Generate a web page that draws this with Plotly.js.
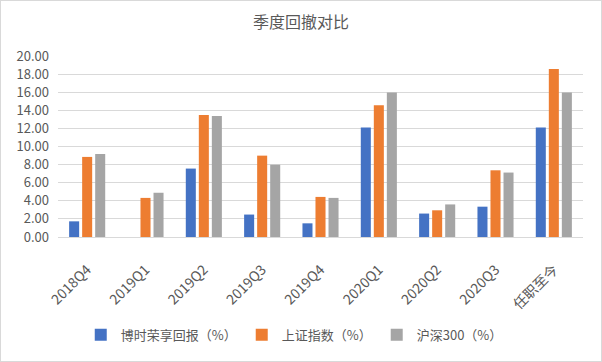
<!DOCTYPE html>
<html>
<head>
<meta charset="utf-8">
<script src="https://cdn.plot.ly/plotly-3.0.1.min.js"></script>
<style>
html,body{margin:0;padding:0;background:#fff;}
#chart{width:600px;height:360px;border:1px solid #d9d9d9;}
</style>
</head>
<body>
<div id="chart"></div>
<script>
const categories = ["2018Q4","2019Q1","2019Q2","2019Q3","2019Q4","2020Q1","2020Q2","2020Q3","任职至今"];
const seriesNames = ["博时荣享回报（%）","上证指数（%）","沪深300（%）"];
const fundValues = [1.73, 0, 7.56, 2.48, 1.51, 12.09, 2.59, 3.35, 12.09];
const shValues   = [8.85, 4.32, 13.49, 8.99, 4.43, 14.57, 2.95, 7.37, 18.56];
const hsValues   = [9.17, 4.89, 13.38, 7.99, 4.32, 15.97, 3.60, 7.12, 15.97];
const colors = ["#4472C4","#ED7D31","#A5A5A5"];

const font = '"Noto Sans CJK SC", "Microsoft YaHei", sans-serif';
const allValues = [fundValues, shValues, hsValues];
const data = allValues.map((v,i)=>({
  type:'bar', x:categories, y:v, name:seriesNames[i],
  marker:{color:colors[i]}, hoverinfo:'none'
}));

const layout = {
  width:600, height:360,
  margin:{l:57, r:18, t:55, b:120},
  paper_bgcolor:'#fff', plot_bgcolor:'#fff',
  font:{family:font, color:'#595959', size:12},
  title:{text:'季度回撤对比', x:0.5, xanchor:'center', y:0.94, yanchor:'middle', font:{size:16, color:'#595959', family:font}},
  barmode:'group', bargap:0.33, bargroupgap:0.23,
  xaxis:{type:'category', tickangle:-45, showline:true, linecolor:'#d9d9d9', linewidth:1,
         ticks:'', ticklabelstandoff:18, automargin:false,
         tickfont:{size:14, color:'#595959'}, showgrid:false},
  yaxis:{range:[0,20], dtick:2, tickformat:'.2f', showgrid:true, gridcolor:'#d9d9d9', gridwidth:1,
         zeroline:false, showline:false, ticks:'', ticklabelstandoff:8, automargin:false,
         tickfont:{size:13, color:'#595959'}},
  legend:{orientation:'h', x:0.45, xanchor:'center', y:-0.54, yanchor:'middle',
          font:{size:13, color:'#595959'}, itemwidth:30, traceorder:'normal'},
  showlegend:true
};
Plotly.newPlot('chart', data, layout, {displayModeBar:false, staticPlot:true});
</script>
</body>
</html>
